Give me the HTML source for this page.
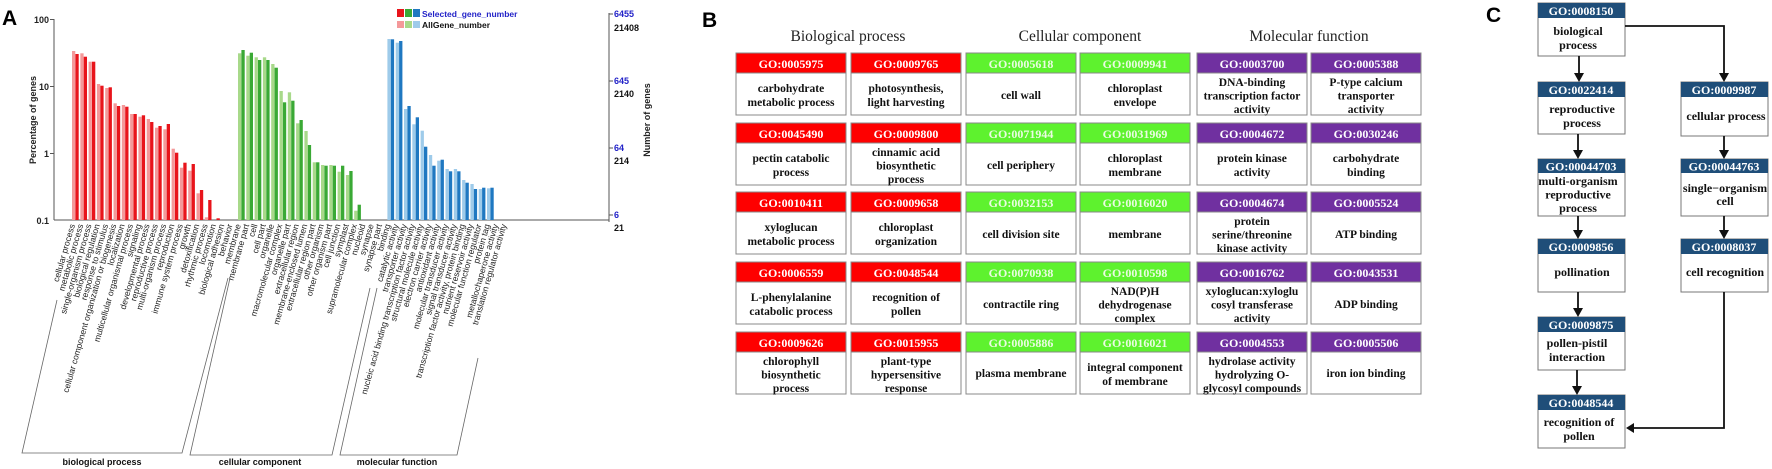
<!DOCTYPE html>
<html><head><meta charset="utf-8"><style>
body{margin:0;background:#fff}
svg{display:block}
.s{font-family:"Liberation Sans",sans-serif}
.f{font-family:"Liberation Serif",serif}
.xl{font-family:"Liberation Sans",sans-serif;font-size:8.6px;fill:#222;text-anchor:end}
.bt{font-family:"Liberation Serif",serif;font-weight:bold;font-size:11.5px;fill:#111;text-anchor:middle}
.ht{font-family:"Liberation Serif",serif;font-weight:bold;font-size:12px;fill:#fff;text-anchor:middle}
.ct{font-family:"Liberation Serif",serif;font-weight:bold;font-size:12px;fill:#111;text-anchor:middle}
</style></head><body>
<svg width="1772" height="469" viewBox="0 0 1772 469" xmlns="http://www.w3.org/2000/svg">
<rect width="1772" height="469" fill="#fff"/>
<!-- Panel A -->
<text x="2" y="25" class="s" font-size="21" font-weight="bold">A</text>
<g stroke="#555" stroke-width="1">
<line x1="54" y1="19" x2="54" y2="220"/>
<line x1="54" y1="220" x2="609" y2="220"/>
<line x1="50" y1="19.5" x2="54" y2="19.5"/><line x1="50" y1="86.5" x2="54" y2="86.5"/><line x1="50" y1="153.5" x2="54" y2="153.5"/>
<line x1="609" y1="13" x2="609" y2="222"/>
<line x1="609" y1="14" x2="613" y2="14"/><line x1="609" y1="81" x2="613" y2="81"/><line x1="609" y1="148" x2="613" y2="148"/><line x1="609" y1="215" x2="613" y2="215"/>
</g>
<g class="s" font-size="9" font-weight="bold" text-anchor="end" fill="#222">
<text x="49" y="23">100</text><text x="49" y="90">10</text><text x="49" y="157">1</text><text x="49" y="224">0.1</text>
</g>
<text transform="translate(36,120) rotate(-90)" class="s" font-size="9" font-weight="bold" text-anchor="middle" fill="#222">Percentage of genes</text>
<g class="s" font-size="9" font-weight="bold">
<g fill="#2323c8"><text x="614" y="17">6455</text><text x="614" y="84">645</text><text x="614" y="151">64</text><text x="614" y="218">6</text></g>
<g fill="#111"><text x="614" y="31">21408</text><text x="614" y="97">2140</text><text x="614" y="164">214</text><text x="614" y="231">21</text></g>
</g>
<text transform="translate(650,120) rotate(-90)" class="s" font-size="9" font-weight="bold" text-anchor="middle" fill="#222">Number of genes</text>
<!-- legend -->
<rect x="397" y="9" width="7" height="8" fill="#e8141b"/><rect x="405" y="9" width="7" height="8" fill="#3aa935"/><rect x="413" y="9" width="7" height="8" fill="#1f78c1"/>
<rect x="397" y="21" width="7" height="7" fill="#f4999a"/><rect x="405" y="21" width="7" height="7" fill="#a8d98a"/><rect x="413" y="21" width="7" height="7" fill="#9ecbea"/>
<text x="422" y="17" class="s" font-size="8.5" font-weight="bold" fill="#2323c8">Selected_gene_number</text>
<text x="422" y="28" class="s" font-size="8.5" font-weight="bold" fill="#111">AllGene_number</text>
<!-- BP bars -->
<g fill="#f4999a">
<rect x="72" y="51" width="3.3" height="169"/><rect x="80.3" y="53.3" width="3.3" height="166.7"/><rect x="88.6" y="61.7" width="3.3" height="158.3"/><rect x="96.9" y="84" width="3.3" height="136"/><rect x="105.2" y="88" width="3.3" height="132"/><rect x="113.5" y="103.3" width="3.3" height="116.7"/><rect x="121.8" y="105" width="3.3" height="115"/><rect x="130.1" y="114" width="3.3" height="106"/><rect x="138.4" y="116.7" width="3.3" height="103.3"/><rect x="146.7" y="119" width="3.3" height="101"/><rect x="155" y="127.7" width="3.3" height="92.3"/><rect x="163.3" y="129.3" width="3.3" height="90.7"/><rect x="171.6" y="148.7" width="3.3" height="71.3"/><rect x="179.9" y="167.7" width="3.3" height="52.3"/><rect x="188.2" y="170.7" width="3.3" height="49.3"/><rect x="196.5" y="193.3" width="3.3" height="26.7"/><rect x="204.8" y="217.3" width="3.3" height="2.7"/>
</g>
<g fill="#e8141b">
<rect x="75.4" y="54" width="3.3" height="166"/><rect x="83.7" y="56.7" width="3.3" height="163.3"/><rect x="92" y="61.7" width="3.3" height="158.3"/><rect x="100.3" y="85.7" width="3.3" height="134.3"/><rect x="108.6" y="87.3" width="3.3" height="132.7"/><rect x="116.9" y="106" width="3.3" height="114"/><rect x="125.2" y="106.7" width="3.3" height="113.3"/><rect x="133.5" y="114" width="3.3" height="106"/><rect x="141.8" y="115.3" width="3.3" height="104.7"/><rect x="150.1" y="122" width="3.3" height="98"/><rect x="158.4" y="126" width="3.3" height="94"/><rect x="166.7" y="124" width="3.3" height="96"/><rect x="175" y="152.7" width="3.3" height="67.3"/><rect x="183.3" y="162.7" width="3.3" height="57.3"/><rect x="191.6" y="164" width="3.3" height="56"/><rect x="199.9" y="190" width="3.3" height="30"/><rect x="208.2" y="200" width="3.3" height="20"/><rect x="216.5" y="218.3" width="3.3" height="1.7"/>
</g>
<!-- CC bars -->
<g fill="#a8d98a">
<rect x="238" y="53.3" width="3.3" height="166.7"/><rect x="246.3" y="55.7" width="3.3" height="164.3"/><rect x="254.6" y="57.3" width="3.3" height="162.7"/><rect x="262.9" y="57.3" width="3.3" height="162.7"/><rect x="271.2" y="64" width="3.3" height="156"/><rect x="279.5" y="91" width="3.3" height="129"/><rect x="287.8" y="92.3" width="3.3" height="127.7"/><rect x="296.1" y="123.3" width="3.3" height="96.7"/><rect x="304.4" y="131" width="3.3" height="89"/><rect x="312.7" y="162.3" width="3.3" height="57.7"/><rect x="321" y="165" width="3.3" height="55"/><rect x="329.3" y="165" width="3.3" height="55"/><rect x="337.6" y="171.7" width="3.3" height="48.3"/><rect x="345.9" y="175" width="3.3" height="45"/><rect x="354.2" y="210.7" width="3.3" height="9.3"/>
</g>
<g fill="#3aa935">
<rect x="241.4" y="50" width="3.3" height="170"/><rect x="249.7" y="52.7" width="3.3" height="167.3"/><rect x="258" y="60" width="3.3" height="160"/><rect x="266.3" y="60" width="3.3" height="160"/><rect x="274.6" y="67.7" width="3.3" height="152.3"/><rect x="282.9" y="102.3" width="3.3" height="117.7"/><rect x="291.2" y="100.7" width="3.3" height="119.3"/><rect x="299.5" y="120" width="3.3" height="100"/><rect x="307.8" y="145" width="3.3" height="75"/><rect x="316.1" y="162.3" width="3.3" height="57.7"/><rect x="324.4" y="165.7" width="3.3" height="54.3"/><rect x="332.7" y="165.7" width="3.3" height="54.3"/><rect x="341" y="165.7" width="3.3" height="54.3"/><rect x="349.3" y="171" width="3.3" height="49"/><rect x="357.6" y="204.7" width="3.3" height="15.3"/>
</g>
<!-- MF bars -->
<g fill="#9ecbea">
<rect x="387.4" y="39" width="3.3" height="181"/><rect x="395.7" y="42.7" width="3.3" height="177.3"/><rect x="404" y="109" width="3.3" height="111"/><rect x="412.3" y="124.3" width="3.3" height="95.7"/><rect x="420.6" y="130.7" width="3.3" height="89.3"/><rect x="428.9" y="155" width="3.3" height="65"/><rect x="437.2" y="160.7" width="3.3" height="59.3"/><rect x="445.5" y="169" width="3.3" height="51"/><rect x="453.8" y="169" width="3.3" height="51"/><rect x="462.1" y="180" width="3.3" height="40"/><rect x="470.4" y="184" width="3.3" height="36"/><rect x="478.7" y="189" width="3.3" height="31"/><rect x="487" y="188.3" width="3.3" height="31.7"/>
</g>
<g fill="#1f78c1">
<rect x="390.8" y="39.3" width="3.3" height="180.7"/><rect x="399.1" y="41" width="3.3" height="179"/><rect x="407.4" y="106" width="3.3" height="114"/><rect x="415.7" y="117.3" width="3.3" height="102.7"/><rect x="424" y="146.7" width="3.3" height="73.3"/><rect x="432.3" y="165.7" width="3.3" height="54.3"/><rect x="440.6" y="159.7" width="3.3" height="60.3"/><rect x="448.9" y="171.3" width="3.3" height="48.7"/><rect x="457.2" y="171.3" width="3.3" height="48.7"/><rect x="465.5" y="182.7" width="3.3" height="37.3"/><rect x="473.8" y="189" width="3.3" height="31"/><rect x="482.1" y="187.7" width="3.3" height="32.3"/><rect x="490.4" y="187.7" width="3.3" height="32.3"/>
</g>
<!-- x labels -->
<g class="xl">
<text transform="translate(75,225) rotate(-74)">cellular process</text>
<text transform="translate(83.3,225) rotate(-74)">metabolic process</text>
<text transform="translate(91.6,225) rotate(-74)">single-organism process</text>
<text transform="translate(99.9,225) rotate(-74)">biological regulation</text>
<text transform="translate(108.2,225) rotate(-74)">response to stimulus</text>
<text transform="translate(116.5,225) rotate(-74)">cellular component organization or biogenesis</text>
<text transform="translate(124.8,225) rotate(-74)">localization</text>
<text transform="translate(133.1,225) rotate(-74)">multicellular organismal process</text>
<text transform="translate(141.4,225) rotate(-74)">signaling</text>
<text transform="translate(149.7,225) rotate(-74)">developmental process</text>
<text transform="translate(158,225) rotate(-74)">reproductive process</text>
<text transform="translate(166.3,225) rotate(-74)">multi-organism process</text>
<text transform="translate(174.6,225) rotate(-74)">reproduction</text>
<text transform="translate(182.9,225) rotate(-74)">immune system process</text>
<text transform="translate(191.2,225) rotate(-74)">growth</text>
<text transform="translate(199.5,225) rotate(-74)">detoxification</text>
<text transform="translate(207.8,225) rotate(-74)">rhythmic process</text>
<text transform="translate(216.1,225) rotate(-74)">locomotion</text>
<text transform="translate(224.4,225) rotate(-74)">biological adhesion</text>
<text transform="translate(232.7,225) rotate(-74)">behavior</text>
<text transform="translate(241,225) rotate(-74)">membrane</text>
<text transform="translate(249.3,225) rotate(-74)">membrane part</text>
<text transform="translate(257.6,225) rotate(-74)">cell</text>
<text transform="translate(265.9,225) rotate(-74)">cell part</text>
<text transform="translate(274.2,225) rotate(-74)">organelle</text>
<text transform="translate(282.5,225) rotate(-74)">macromolecular complex</text>
<text transform="translate(290.8,225) rotate(-74)">organelle part</text>
<text transform="translate(299.1,225) rotate(-74)">extracellular region</text>
<text transform="translate(307.4,225) rotate(-74)">membrane-enclosed lumen</text>
<text transform="translate(315.7,225) rotate(-74)">extracellular region part</text>
<text transform="translate(324,225) rotate(-74)">other organism</text>
<text transform="translate(332.3,225) rotate(-74)">other organism part</text>
<text transform="translate(340.6,225) rotate(-74)">cell junction</text>
<text transform="translate(348.9,225) rotate(-74)">symplast</text>
<text transform="translate(357.2,225) rotate(-74)">supramolecular complex</text>
<text transform="translate(365.5,225) rotate(-74)">nucleoid</text>
<text transform="translate(373.8,225) rotate(-74)">synapse</text>
<text transform="translate(382.1,225) rotate(-74)">synapse part</text>
<text transform="translate(390.4,225) rotate(-74)">binding</text>
<text transform="translate(398.7,225) rotate(-74)">catalytic activity</text>
<text transform="translate(407,225) rotate(-74)">transporter activity</text>
<text transform="translate(415.3,225) rotate(-74)">nucleic acid binding transcription factor activity</text>
<text transform="translate(423.6,225) rotate(-74)">structural molecule activity</text>
<text transform="translate(431.9,225) rotate(-74)">electron carrier activity</text>
<text transform="translate(440.2,225) rotate(-74)">antioxidant activity</text>
<text transform="translate(448.5,225) rotate(-74)">molecular transducer activity</text>
<text transform="translate(456.8,225) rotate(-74)">signal transducer activity</text>
<text transform="translate(465.1,225) rotate(-74)">transcription factor activity, protein binding</text>
<text transform="translate(473.4,225) rotate(-74)">nutrient reservoir activity</text>
<text transform="translate(481.7,225) rotate(-74)">molecular function regulator</text>
<text transform="translate(490,225) rotate(-74)">protein tag</text>
<text transform="translate(498.3,225) rotate(-74)">metallochaperone activity</text>
<text transform="translate(506.6,225) rotate(-74)">translation regulator activity</text>
</g>
<!-- brackets -->
<g fill="none" stroke="#666" stroke-width="0.8">
<polyline points="57,300 22,453 182,453 228,278"/>
<polyline points="230,278 190,455 332,455 370,288"/>
<polyline points="377,288 340,455 457,455 478,358"/>
</g>
<g class="s" font-size="9" font-weight="bold" text-anchor="middle" fill="#111">
<text x="102" y="465">biological process</text>
<text x="260" y="465">cellular component</text>
<text x="397" y="465">molecular function</text>
</g>

<!-- Panel B -->
<text x="702" y="27" class="s" font-size="21" font-weight="bold">B</text>
<g class="f" font-size="15.5" text-anchor="middle" fill="#222">
<text x="848" y="41">Biological process</text>
<text x="1080" y="41">Cellular component</text>
<text x="1309" y="41">Molecular function</text>
</g>
<g stroke="#888" stroke-width="1">
<!-- row tops: 53,123,192,262,332 -->
<g fill="#fff">
<rect x="736" y="53" width="110" height="62"/><rect x="851" y="53" width="110" height="62"/><rect x="966" y="53" width="110" height="62"/><rect x="1080" y="53" width="110" height="62"/><rect x="1197" y="53" width="110" height="62"/><rect x="1311" y="53" width="110" height="62"/>
<rect x="736" y="123" width="110" height="62"/><rect x="851" y="123" width="110" height="62"/><rect x="966" y="123" width="110" height="62"/><rect x="1080" y="123" width="110" height="62"/><rect x="1197" y="123" width="110" height="62"/><rect x="1311" y="123" width="110" height="62"/>
<rect x="736" y="192" width="110" height="62"/><rect x="851" y="192" width="110" height="62"/><rect x="966" y="192" width="110" height="62"/><rect x="1080" y="192" width="110" height="62"/><rect x="1197" y="192" width="110" height="62"/><rect x="1311" y="192" width="110" height="62"/>
<rect x="736" y="262" width="110" height="62"/><rect x="851" y="262" width="110" height="62"/><rect x="966" y="262" width="110" height="62"/><rect x="1080" y="262" width="110" height="62"/><rect x="1197" y="262" width="110" height="62"/><rect x="1311" y="262" width="110" height="62"/>
<rect x="736" y="332" width="110" height="62"/><rect x="851" y="332" width="110" height="62"/><rect x="966" y="332" width="110" height="62"/><rect x="1080" y="332" width="110" height="62"/><rect x="1197" y="332" width="110" height="62"/><rect x="1311" y="332" width="110" height="62"/>
</g>
<g fill="#fe0000">
<rect x="736" y="53" width="110" height="20"/><rect x="851" y="53" width="110" height="20"/>
<rect x="736" y="123" width="110" height="20"/><rect x="851" y="123" width="110" height="20"/>
<rect x="736" y="192" width="110" height="20"/><rect x="851" y="192" width="110" height="20"/>
<rect x="736" y="262" width="110" height="20"/><rect x="851" y="262" width="110" height="20"/>
<rect x="736" y="332" width="110" height="20"/><rect x="851" y="332" width="110" height="20"/>
</g>
<g fill="#5ef22e">
<rect x="966" y="53" width="110" height="20"/><rect x="1080" y="53" width="110" height="20"/>
<rect x="966" y="123" width="110" height="20"/><rect x="1080" y="123" width="110" height="20"/>
<rect x="966" y="192" width="110" height="20"/><rect x="1080" y="192" width="110" height="20"/>
<rect x="966" y="262" width="110" height="20"/><rect x="1080" y="262" width="110" height="20"/>
<rect x="966" y="332" width="110" height="20"/><rect x="1080" y="332" width="110" height="20"/>
</g>
<g fill="#7030a0">
<rect x="1197" y="53" width="110" height="20"/><rect x="1311" y="53" width="110" height="20"/>
<rect x="1197" y="123" width="110" height="20"/><rect x="1311" y="123" width="110" height="20"/>
<rect x="1197" y="192" width="110" height="20"/><rect x="1311" y="192" width="110" height="20"/>
<rect x="1197" y="262" width="110" height="20"/><rect x="1311" y="262" width="110" height="20"/>
<rect x="1197" y="332" width="110" height="20"/><rect x="1311" y="332" width="110" height="20"/>
</g>
</g>
<g class="ht">
<text x="791" y="68">GO:0005975</text><text x="906" y="68">GO:0009765</text><text x="1021" y="68" fill="#eafbe2">GO:0005618</text><text x="1135" y="68" fill="#eafbe2">GO:0009941</text><text x="1252" y="68">GO:0003700</text><text x="1366" y="68">GO:0005388</text>
<text x="791" y="138">GO:0045490</text><text x="906" y="138">GO:0009800</text><text x="1021" y="138" fill="#eafbe2">GO:0071944</text><text x="1135" y="138" fill="#eafbe2">GO:0031969</text><text x="1252" y="138">GO:0004672</text><text x="1366" y="138">GO:0030246</text>
<text x="791" y="207">GO:0010411</text><text x="906" y="207">GO:0009658</text><text x="1021" y="207" fill="#eafbe2">GO:0032153</text><text x="1135" y="207" fill="#eafbe2">GO:0016020</text><text x="1252" y="207">GO:0004674</text><text x="1366" y="207">GO:0005524</text>
<text x="791" y="277">GO:0006559</text><text x="906" y="277">GO:0048544</text><text x="1021" y="277" fill="#eafbe2">GO:0070938</text><text x="1135" y="277" fill="#eafbe2">GO:0010598</text><text x="1252" y="277">GO:0016762</text><text x="1366" y="277">GO:0043531</text>
<text x="791" y="347">GO:0009626</text><text x="906" y="347">GO:0015955</text><text x="1021" y="347" fill="#eafbe2">GO:0005886</text><text x="1135" y="347" fill="#eafbe2">GO:0016021</text><text x="1252" y="347">GO:0004553</text><text x="1366" y="347">GO:0005506</text>
</g>
<g class="bt">
<!-- row1 top 53 -->
<text x="791" y="92">carbohydrate</text><text x="791" y="106">metabolic process</text>
<text x="906" y="92">photosynthesis,</text><text x="906" y="106">light harvesting</text>
<text x="1021" y="99">cell wall</text>
<text x="1135" y="92">chloroplast</text><text x="1135" y="106">envelope</text>
<text x="1252" y="86">DNA-binding</text><text x="1252" y="99.5">transcription factor</text><text x="1252" y="113">activity</text>
<text x="1366" y="86">P-type calcium</text><text x="1366" y="99.5">transporter</text><text x="1366" y="113">activity</text>
<!-- row2 top 123 -->
<text x="791" y="162">pectin catabolic</text><text x="791" y="176">process</text>
<text x="906" y="156">cinnamic acid</text><text x="906" y="169.5">biosynthetic</text><text x="906" y="183">process</text>
<text x="1021" y="169">cell periphery</text>
<text x="1135" y="162">chloroplast</text><text x="1135" y="176">membrane</text>
<text x="1252" y="162">protein kinase</text><text x="1252" y="176">activity</text>
<text x="1366" y="162">carbohydrate</text><text x="1366" y="176">binding</text>
<!-- row3 top 192 -->
<text x="791" y="231">xyloglucan</text><text x="791" y="245">metabolic process</text>
<text x="906" y="231">chloroplast</text><text x="906" y="245">organization</text>
<text x="1021" y="238">cell division site</text>
<text x="1135" y="238">membrane</text>
<text x="1252" y="225">protein</text><text x="1252" y="238.5">serine/threonine</text><text x="1252" y="252">kinase activity</text>
<text x="1366" y="238">ATP binding</text>
<!-- row4 top 262 -->
<text x="791" y="301">L-phenylalanine</text><text x="791" y="315">catabolic process</text>
<text x="906" y="301">recognition of</text><text x="906" y="315">pollen</text>
<text x="1021" y="308">contractile ring</text>
<text x="1135" y="295">NAD(P)H</text><text x="1135" y="308.5">dehydrogenase</text><text x="1135" y="322">complex</text>
<text x="1252" y="295">xyloglucan:xyloglu</text><text x="1252" y="308.5">cosyl transferase</text><text x="1252" y="322">activity</text>
<text x="1366" y="308">ADP binding</text>
<!-- row5 top 332 -->
<text x="791" y="365">chlorophyll</text><text x="791" y="378.5">biosynthetic</text><text x="791" y="392">process</text>
<text x="906" y="365">plant-type</text><text x="906" y="378.5">hypersensitive</text><text x="906" y="392">response</text>
<text x="1021" y="377">plasma membrane</text>
<text x="1135" y="371">integral component</text><text x="1135" y="385">of membrane</text>
<text x="1252" y="365">hydrolase activity</text><text x="1252" y="378.5">hydrolyzing O-</text><text x="1252" y="392">glycosyl compounds</text>
<text x="1366" y="377">iron ion binding</text>
</g>

<!-- Panel C -->
<text x="1486" y="22" class="s" font-size="21" font-weight="bold">C</text>
<g stroke="#777" stroke-width="1" fill="#fff">
<rect x="1538" y="3" width="87" height="53"/><rect x="1538" y="82" width="87" height="52"/><rect x="1538" y="159" width="87" height="57"/><rect x="1538" y="239" width="87" height="53"/><rect x="1538" y="317" width="87" height="53"/><rect x="1538" y="395" width="87" height="53"/>
<rect x="1681" y="82" width="87" height="54"/><rect x="1681" y="159" width="87" height="57"/><rect x="1681" y="239" width="87" height="53"/>
</g>
<g fill="#1f4e79">
<rect x="1538" y="3" width="87" height="15"/><rect x="1538" y="82" width="87" height="15"/><rect x="1538" y="159" width="87" height="14"/><rect x="1538" y="239" width="87" height="15"/><rect x="1538" y="317" width="87" height="15"/><rect x="1538" y="395" width="87" height="15"/>
<rect x="1681" y="82" width="87" height="15"/><rect x="1681" y="159" width="87" height="14"/><rect x="1681" y="239" width="87" height="15"/>
</g>
<g class="ht" font-size="11.5" fill="#dde6f0">
<text x="1581" y="15">GO:0008150</text><text x="1581" y="94">GO:0022414</text><text x="1581" y="170.5">GO:00044703</text><text x="1581" y="251">GO:0009856</text><text x="1581" y="329">GO:0009875</text><text x="1581" y="407">GO:0048544</text>
<text x="1724" y="94">GO:0009987</text><text x="1724" y="170.5">GO:00044763</text><text x="1724" y="251">GO:0008037</text>
</g>
<g class="ct">
<text x="1578" y="35">biological</text><text x="1578" y="49">process</text>
<text x="1582" y="113">reproductive</text><text x="1582" y="127">process</text>
<text x="1578" y="185">multi-organism</text><text x="1578" y="198.5">reproductive</text><text x="1578" y="212">process</text>
<text x="1582" y="276">pollination</text>
<text x="1577" y="347">pollen-pistil</text><text x="1577" y="361">interaction</text>
<text x="1579" y="426">recognition of</text><text x="1579" y="440">pollen</text>
<text x="1726" y="120">cellular process</text>
<text x="1725" y="192">single−organism</text><text x="1725" y="205">cell</text>
<text x="1725" y="276">cell recognition</text>
</g>
<g stroke="#111" stroke-width="1.8" fill="none">
<line x1="1579" y1="56" x2="1579" y2="80"/><line x1="1578" y1="134" x2="1578" y2="157"/><line x1="1578" y1="216" x2="1578" y2="237"/><line x1="1578" y1="292" x2="1578" y2="315"/><line x1="1577" y1="370" x2="1577" y2="393"/>
<polyline points="1625,26 1724,26 1724,80"/>
<line x1="1724" y1="136" x2="1724" y2="157"/><line x1="1724" y1="216" x2="1724" y2="237"/>
<polyline points="1724,292 1724,428 1628,428"/>
</g>
<g fill="#111">
<polygon points="1574,73 1584,73 1579,82"/><polygon points="1573,150 1583,150 1578,159"/><polygon points="1573,230 1583,230 1578,239"/><polygon points="1573,308 1583,308 1578,317"/><polygon points="1572,386 1582,386 1577,395"/>
<polygon points="1719,73 1729,73 1724,82"/><polygon points="1719,150 1729,150 1724,159"/><polygon points="1719,230 1729,230 1724,239"/>
<polygon points="1634,423 1634,433 1626,428"/>
</g>
</svg>
</body></html>
